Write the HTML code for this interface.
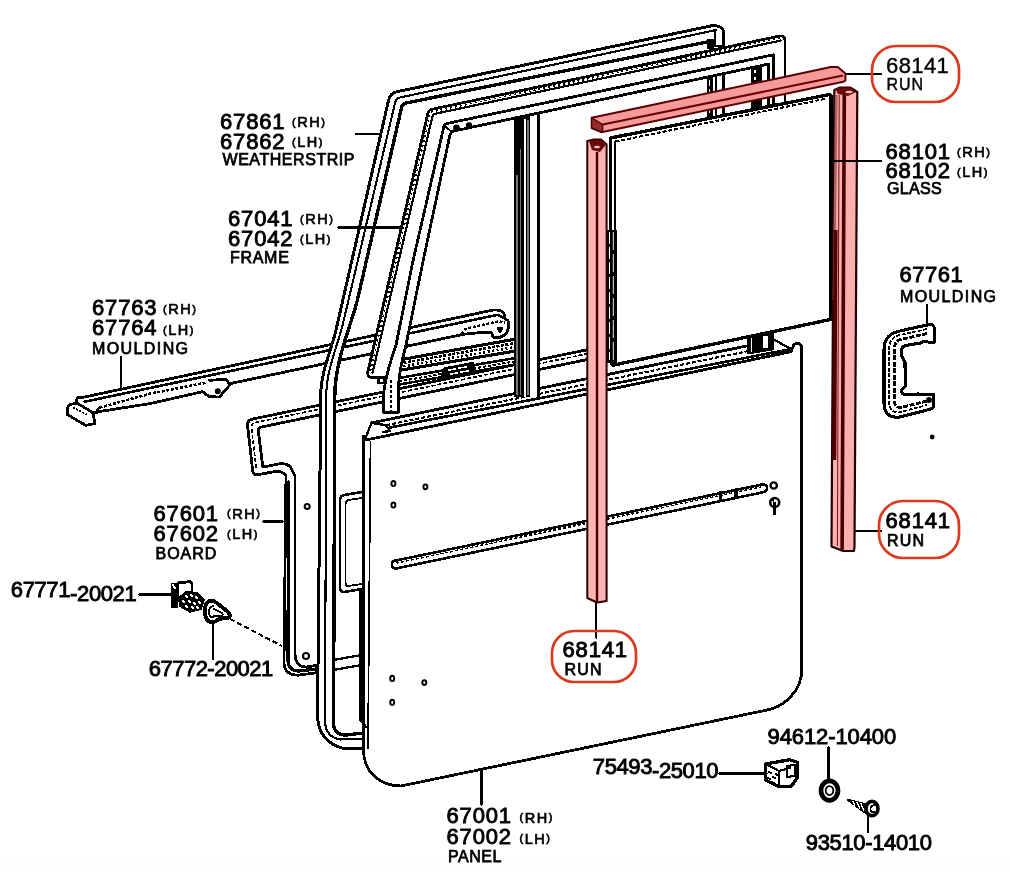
<!DOCTYPE html>
<html><head><meta charset="utf-8">
<style>
html,body{margin:0;padding:0;background:#fff;}
body{width:1010px;height:872px;position:relative;overflow:hidden;}
svg{position:absolute;left:0;top:0;will-change:transform;}
text{font-family:"Liberation Sans",sans-serif;fill:#000;}
.n{font-size:22px;letter-spacing:0.85px;stroke:#000;stroke-width:0.9px;}
.p{font-size:22px;letter-spacing:-0.1px;stroke:#000;stroke-width:0.9px;}
.s{font-size:14.5px;letter-spacing:1.5px;stroke:#000;stroke-width:0.7px;}
.pp{font-size:11px;font-weight:normal;}
.l{font-size:16px;letter-spacing:1px;stroke:#000;stroke-width:0.75px;}
</style></head><body>
<svg width="1010" height="872" viewBox="0 0 1010 872">
<rect x="0" y="856" width="1010" height="16" fill="#fefefe"/>
<g fill="none" stroke="#000" stroke-linejoin="round" stroke-linecap="round" shape-rendering="crispEdges" stroke-width="2.8">
<!-- BOARD 67601 -->
<g id="board">

<path d="M600,347.1 L252,419.2 Q247.5,420.5 247.5,425 L252.6,470 Q253,474.7 257.2,474.7 L274,471.8 Q283,470.5 286,476 L284,662 Q284,675 298,675.2 L316,672.8"/>
<path d="M600,351.1 L254,422.8 Q251.5,424 251.5,428 L256.4,469.5" stroke-width="1.69" stroke-linecap="butt" stroke-dasharray="4 2"/>
<path d="M288.5,482 L288,660 Q288,671 299,671 L316,669" stroke-width="3.25"/>
<path d="M600,356.9 L261,427.1 Q258.3,428.3 258.3,431 L262.9,467.2 L278,464 Q290,462 293,472 L295,476 L295,652 Q295,667 306,667 L316,665.5"/>
<circle shape-rendering="auto" cx="307.2" cy="506.5" r="2.5" stroke-width="2.08"/>
<circle shape-rendering="auto" cx="306" cy="656" r="3" stroke-width="2.08"/>
<path d="M333,660 L362,655 M333,670 L362,665" stroke-width="2.34"/>
</g>
<!-- MOULDING 67763 -->
<g id="mould1">
<path d="M80,398 L491.3,310.4 Q499,309 503,312 Q505,314 504.2,317.8 L508.1,320.8 L508.1,328.7 Q507.5,333 505.1,334.7 L499.2,337.6 L493.3,337.1 L491.3,332.7 L484.4,332.2 L463.6,334.2 L459.6,335.1 L229.2,383.8 L226.2,379.3 L209.4,380.3 M229.2,383.8 L229.2,385.7 L219.3,397.1 L209.4,396.6 L202.5,391.7 L150,403.6 L92.7,412.6"/>
<path d="M84.8,401.7 L497.2,314.9 L504.2,317.8" stroke-width="2.60"/>
<path d="M99.6,407.6 L150,393.7 L207,382.5" stroke-width="2.60" stroke-linecap="butt" stroke-dasharray="3 1.6"/>
<path d="M461.6,334 L466,328.7 L499.2,321.3 L505,323" stroke-width="2.60" stroke-linecap="butt" stroke-dasharray="3 1.6"/>
<path d="M99.6,407.6 Q96,410 97,413" stroke-width="2.34"/>
<path d="M78.8,397.2 Q75.5,399 77,403 L70,404.5 Q66.5,406 67.4,414.6 L85.7,425.4 L94.7,423.5 L93.7,416.5 L92.7,412.6 M77,403 L92.7,412.6"/>
<path d="M72.9,407.6 L88.7,415.5" stroke-width="1.82" stroke-linecap="butt" stroke-dasharray="2 1.5"/>
<path d="M497,328 L503,328 L500,333 Z" fill="#000" stroke-width="1.30"/>
<circle shape-rendering="auto" cx="217.8" cy="391.2" r="1.6" fill="#000"/>
</g>
<!-- door inner rails -->
<g id="rails">
<path d="M399,360 L527,337" stroke-width="3.12"/>
<path d="M399,370.5 L527,349" stroke-width="3.12"/>
<path d="M399,363.6 L527,341" stroke-width="2.60" stroke-linecap="butt" stroke-dasharray="3 1.5"/>
<path d="M399,367 L527,345" stroke-width="2.60" stroke-linecap="butt" stroke-dasharray="2 2.5"/>
<path d="M399,378 L527,356" stroke-width="2.60"/>
<path d="M399,384.5 L527,362.5" stroke-width="2.60"/>
<path d="M399,381.3 L527,359.3" stroke-width="2.08" stroke-linecap="butt" stroke-dasharray="3 2"/>
<path d="M441,377 L444,368 L473,362.5 L476,371 Z" fill="#000" stroke-width="1.30"/>
<path d="M449,370 L455,369 M459,368 L466,367 M451,374 L457,373 M461,372 L468,371" stroke="#fff" stroke-width="1.56"/>
</g>
<!-- FRAME 67041 -->
<g id="frame">
<path d="M784.9,103 V39.5 Q784.5,36 780.3,35.9 L431,109.5 Q428.5,110.5 428,113 L367.8,372 Q367.5,377.4 372,377.4 L383.5,377.4 L383.5,412.3 L398.5,412.3 L398.5,390 Q398.5,372 406,345 L423.3,260 L450,134.5 Q451,131.8 454,131 L768.8,64 V107 Z" fill="#fff" stroke="none"/>
<path d="M784.9,103 V39.5 Q784.5,36 780.3,35.9 L431,109.5 Q428.5,110.5 428,113 L367.8,372 Q367.5,377.4 372,377.4 L380,377.4"/>
<path d="M781,40.5 L434,114 Q432.5,115 432,118 L372.5,373" stroke-width="2.21"/>
<path d="M780,38.2 L432,111.8 Q430.3,112.6 430,115 L370.2,372.5" stroke-width="1.56" stroke-linecap="butt" stroke-dasharray="2 3"/>
<path d="M773.4,106 V54.8 L447,123.5 Q444.5,124 443.8,127 L413.2,260 L396,345 Q385,377 383.5,395 L383.5,412.3 L398.5,412.3 L398.5,390 Q398.5,372 406,345 L423.3,260 L450,134.5 Q451,131.8 454,131 L768.8,64 V107"/>
<path d="M391,380 V411" stroke-width="1.56" stroke-linecap="butt" stroke-dasharray="3 2"/>
<rect x="378.5" y="377.5" width="6" height="5.5" fill="#fff"/>
<rect x="706.5" y="76" width="6.5" height="43" fill="#000" stroke="none"/><path d="M709.5,80 V116" stroke="#fff" stroke-width="1.04" stroke-linecap="butt" stroke-dasharray="6 3"/><path d="M716,75 V118 M723.5,73 V117" stroke-width="2.08"/>
<rect x="750.5" y="67" width="11" height="41" fill="#000" stroke="none"/><path d="M755,70 V105" stroke="#fff" stroke-width="1.56" stroke-linecap="butt" stroke-dasharray="3 4"/>
<path d="M444.5,126 L452,132" stroke-width="1.95"/>
<circle shape-rendering="auto" cx="456.5" cy="128" r="2" fill="#000"/>
<circle shape-rendering="auto" cx="469" cy="125.5" r="1.8" fill="#000"/>
</g>
<!-- WEATHERSTRIP 67861 -->
<g id="weather">
<path d="M723.4,46 V31 Q722.5,26.5 714,25.3 L398,91.5 Q390,93 388.6,100 L336,330 C331.4,350 320.8,372 320.8,395 L317.5,715 Q318,742 344,748.7 L363.5,748.7 L363.5,733 L346,735 Q335,735 333.5,725 L334.8,395 C335,360 352,323 357.4,300 L401.7,107 Q402,104.5 405,103.2 L707,42 Z" fill="#fff" stroke="none"/>
<path d="M723.4,46 V31 Q722.5,26.5 714,25.3 L398,91.5 Q390,93 388.6,100 L336,330 C331.4,350 320.8,372 320.8,395 L317.5,715 Q318,742 344,748.7 L363.5,748.7" stroke-width="2.99"/>
<path d="M716,30 L399,97.7 Q395.5,99 394.8,104 L342.6,325 C337.9,345 326.3,370 326.3,395 L325,722 Q326,737 340,739.5 L363.5,738.5" stroke-width="2.08"/>
<path d="M707,42 L405,103.2 Q402,104.5 401.7,107 L357.4,300 C352,323 335,360 334.8,395 L333.5,725 Q335,735 346,735 L363.5,733" stroke-width="3.38"/>
<path d="M715,30 V46 H723.4"/>
<rect x="707" y="39" width="7" height="10" fill="#000" stroke="none"/>
</g>
<!-- GLASS -->
<g id="glass">
<path d="M610.6,138 L829.5,94.5 L831,96 V319.4 L613,365.2 L610.6,362 Z" fill="#fff" stroke-width="3.38"/>
<path d="M615.5,141.5 L827,98.5" stroke-width="2.08" stroke-linecap="butt" stroke-dasharray="4 2"/>
<path d="M615.3,141.5 V361" stroke-width="2.34"/>
<rect x="607" y="230" width="9.5" height="133" fill="#000" stroke="none"/>
<path d="M609.8,232 V360" stroke="#fff" stroke-width="1.04" stroke-linecap="butt" stroke-dasharray="12 3"/>
<path d="M613.3,232 V360" stroke="#fff" stroke-width="0.91" stroke-linecap="butt" stroke-dasharray="18 4"/>
</g>
<!-- DOOR PANEL 67001 -->
<g id="panel">
<path d="M371.4,422.9 L748,345.7 L772.6,338.8 L791,349 L791,351.7 L366,440 Z" fill="#fff" stroke="none"/>
<path d="M363.5,436 L363.5,750 C363.5,772 380,786 401,786 L763.3,710.8 C785,708 801.8,690 801.8,669.5 L801.8,346 L799,343.5 L794,344 L791,351.7 L366,440 Z" fill="#fff"/>
<path d="M370.5,442 L368,748" stroke-width="1.69"/>
<path d="M360.5,590 V720 L366,727" stroke-width="2.60"/>
<path d="M371.4,422.9 L748,345.7" stroke-width="2.86"/>
<path d="M386,425.2 L772,346.2" stroke-width="2.08" stroke-linecap="butt" stroke-dasharray="4 2"/>
<path d="M390,427.5 L791,349" stroke-width="2.60"/>
<path d="M366,437 L371.4,422.9 L386,425.2 L390,431 L383,432" stroke-width="2.34"/>
<path d="M772.6,338.8 L791,349" stroke-width="2.34"/>
<path d="M748,337 L772.6,333 L772.6,349 L748,353 Z" fill="#000"/>
<rect x="762.5" y="336" width="5" height="12" fill="#fff" stroke="none"/>
<path d="M751.5,339 V351" stroke="#fff" stroke-width="1.04"/>
<path d="M396,560.5 L762,484.5 Q767,484 767,488 Q767,492 762,492.5 L396,568.5 Q392,568.5 392,564.5 Q392,560.5 396,560.5 Z" stroke-width="2.60"/>
<path d="M396.5,563 L761,487" stroke-width="1.56" stroke-linecap="butt" stroke-dasharray="3 2"/>
<path d="M720.2,492 V500 M736,489 V497" stroke-width="3.12"/>
<path d="M362,492 L344,495 Q340,496 340,500 L340,588 Q340,592 344,592 L362,589" stroke-width="2.60"/>
<path d="M362,498 L348,500 Q345.5,501 345.5,504 L345.5,583 Q345.5,586 348,586 L362,584" stroke-width="1.95"/>
<ellipse shape-rendering="auto" cx="393.4" cy="483.5" rx="2" ry="2.6" stroke-width="1.95"/>
<ellipse shape-rendering="auto" cx="393.4" cy="505" rx="2" ry="2.6" stroke-width="1.95"/>
<ellipse shape-rendering="auto" cx="425.4" cy="486.8" rx="2" ry="2.4" stroke-width="1.95"/>
<ellipse shape-rendering="auto" cx="392.2" cy="678.4" rx="2" ry="2.6" stroke-width="1.95"/>
<ellipse shape-rendering="auto" cx="424.3" cy="682.6" rx="2" ry="2.4" stroke-width="1.95"/>
<ellipse shape-rendering="auto" cx="392.2" cy="702.3" rx="2" ry="2.6" stroke-width="1.95"/>
<circle shape-rendering="auto" cx="773.7" cy="485.5" r="3.2" stroke-width="2.34"/>
<ellipse shape-rendering="auto" cx="774.7" cy="502.5" rx="4.5" ry="4.5" stroke-width="2.60"/><path d="M774.5,504 V513" stroke-width="3.90"/><path d="M773,500 L775,505" stroke-width="1.56"/>
</g>
<!-- division bar -->
<g id="divbar">
<path d="M514,121 L540,115.5 L540,397 L514,397 Z" fill="#fff" stroke="none"/>
<path d="M514,119.5 L530,116.2 L530,397 L514,397 Z" fill="#000" stroke="none"/>
<path d="M525,120 V396" stroke="#fff" stroke-width="2.08"/>
<path d="M517,175 V395 M520.8,150 V395 M528,120 V395" stroke="#777" stroke-width="1.17"/>
<path d="M538.7,113 V396" stroke-width="3.12"/>
</g>
<!-- MOULDING 67761 -->
<g id="mould2">
<path d="M929,324.5 Q934.3,324 934.3,329 L934.3,342 L929,342.5 Q925,340 921,343 L906,345.5 Q901,347 901,352 L902,357 L905,362 L905.3,386 L901.5,390 Q901,394 905,394.5 L919,394 Q922,395.5 926,394.4 L933.6,394.4 L933.6,406 Q933,409 929,409.5 L899,417.2 Q884,418 884,403 L884,350 Q884,334 900,331 Z" stroke-width="3.12"/>
<path d="M927,329 L900,335 Q889,337 889,350 L889,402 Q889,412 899,412.5 L927,405" stroke-width="1.82" stroke-linecap="butt" stroke-dasharray="4 1.5"/>
<path d="M927,333.5 L901,339.5 Q894.5,341 894.5,348 L894.5,400 Q894.5,408 901,407.5 L927,401" stroke-width="2.86" stroke-linecap="butt" stroke-dasharray="5 1.5"/>
<circle shape-rendering="auto" cx="929" cy="400" r="1.5" fill="#000"/>
<circle shape-rendering="auto" cx="932.2" cy="437" r="1" fill="#000"/>
</g>
<!-- small parts -->
<g id="parts">
<path d="M178,583 L190,581.6 L192,584 L192,597 L178,598 Z" fill="#fff" stroke-width="2.86"/>
<rect x="171.2" y="583.3" width="7" height="24.3" fill="#000" stroke="none"/>
<path d="M173,585 L175,588" stroke="#fff" stroke-width="1.95"/>
<path d="M179,598 L186,592.3 L197,592.6 L203.8,599.5 L201,609 L190,611.7 L180,606 Z" fill="#000" stroke-width="1.95"/>
<path d="M186,596 L187,597 M191,595 L192,596 M196,597 L197,598 M183,601 L184,602 M189,601 L190,602 M194,603 L195,604 M199,602 L200,603 M186,606 L187,607 M192,607 L193,608 M197,607 L198,608" stroke="#fff" stroke-width="1.56"/>
<path d="M211,600.8 Q205,601 205,611 Q205,622 212,622 Q216,622 219,619 L229,617.5 Q231,615 228,612 L217,603 Q214,600.8 211,600.8 Z" fill="#fff" stroke-width="3.90"/>
<path d="M213,606 Q209,607 209,612 Q209,617 213,617.5 M214,609 L222,613 Q224,615 221,616 L214,616" stroke-width="1.95"/>
<path d="M765.8,764 L789.6,759.7 L797.3,762.3 L797.3,777.7 L790.9,786.7 L779.3,786.7 L765.8,780.3 Z" fill="#fff" stroke-width="3.38"/>
<path d="M766,764 L779,771 L790,768 M779,771 L779.3,786.7" stroke-width="2.08"/>
<path d="M787,766 L795,765 L795,776 L787,777 Z" stroke-width="2.08"/>
<path d="M769,772 L771,773 M773,777 L775,778 M768,778 L770,779 M772,782 L774,783 M776,774 L777,775" stroke-width="1.82"/>
<ellipse shape-rendering="auto" cx="829.5" cy="790.6" rx="8.5" ry="9.8" fill="#fff" stroke-width="4.68"/>
<ellipse shape-rendering="auto" cx="829.5" cy="790.6" rx="3.8" ry="4.5" stroke-width="1.82"/>
<path d="M847.5,799.6 L866.8,804.5 L865.5,813 Z" fill="#000" stroke-width="1.95"/>
<path d="M853,801.5 L855,806 M857,802.5 L859.5,808 M861,803.5 L863.5,810" stroke="#fff" stroke-width="1.30"/>
<ellipse shape-rendering="auto" cx="872" cy="808.6" rx="6" ry="7.2" fill="#fff" stroke-width="3.64"/>
<path d="M874,805 Q870,806 870.5,810 Q871,812.5 874,812" stroke-width="1.82"/>
</g>
<!-- leader lines -->
<g id="leaders" stroke-width="2.08">
<path d="M356,134 H381"/>
<path d="M338,227.5 H401"/>
<path d="M121.4,356.8 V388"/>
<path d="M845,74 H881"/>
<path d="M927.2,305 V326"/>
<path d="M262.8,521.5 H283"/>
<path d="M139,594.5 H172"/>
<path d="M213.2,620.7 V659"/>
<path d="M230,619 L282,646" stroke-linecap="butt" stroke-dasharray="5 3"/>
<path d="M854.2,530.9 H881.6"/>
<path d="M596.4,602.7 V637.8"/>
<path d="M481.5,771 V805"/>
<path d="M719,773.5 H767"/>
<path d="M828.5,746.7 V781"/>
<path d="M868,814.4 V832.3"/>
</g>
</g>
<!-- RED RUNS -->
<g id="runs" stroke-linejoin="round">
<path d="M591.7,117.7 L830.9,67.1 L837.8,67.1 L845.4,73.4 L845.4,80.6 L843.4,81.7 L601.3,132.2 L591.7,128 Z" fill="#f59a9a" stroke="#5a0000" stroke-width="2"/>
<path d="M602.7,124.6 L843,75.5" fill="none" stroke="#6a0000" stroke-width="2"/>
<path d="M591.7,117.7 L602.7,124.6 L602.7,132 L591.7,128 Z" fill="#9a2a2a" stroke="#3a0000" stroke-width="1.2"/>
<path d="M587.3,141 L593,139.6 L601,139.6 L606.6,144.2 L606.6,601 L597,602.5 L587.3,598 Z" fill="#fdb4b4" stroke="#2a0000" stroke-width="2"/>
<path d="M597,152 V602" stroke="#4a0000" stroke-width="2.4"/>
<path d="M589,141 L594,139.8 L601,139.8 L606.5,144 L600,152 L592,150 Z" fill="#6a0a0a" stroke="none"/>
<ellipse shape-rendering="auto" cx="597" cy="147" rx="3" ry="1.2" fill="#f0c0c0"/>
<path d="M834.3,90 L840,87.5 L850,87.5 L857.3,92 L854.5,546.5 L854,551 L843,551 L831.5,546.5 Z" fill="#fbb0b0" stroke="#200000" stroke-width="2.2"/>
<path d="M836.3,95 L834,300" stroke="#b06060" stroke-width="2.6"/>
<path d="M835.6,230 L834.3,460" stroke="#500000" stroke-width="4"/>
<path d="M839.2,95 L837.4,546" stroke="#6a1010" stroke-width="1"/>
<path d="M844.3,95 L842.1,550" stroke="#4a0000" stroke-width="3.6"/>
<path d="M835.5,89 L840,87.6 L850,87.6 L856,92 L848,96 L838,94 Z" fill="#6a0a0a" stroke="none"/>
<ellipse shape-rendering="auto" cx="849" cy="92" rx="3.5" ry="1.2" fill="#f0c0c0"/>
</g>
<path d="M831,161.2 H882" stroke="#000" stroke-width="2" shape-rendering="crispEdges"/>
<!-- callouts -->
<g fill="none" stroke="#dc3a1e" stroke-width="2.7">
<rect x="872" y="46" width="87" height="56" rx="24"/>
<rect x="879" y="501" width="80" height="57" rx="24"/>
<rect x="552" y="631" width="84" height="51" rx="22"/>
</g>
<!-- text -->
<g>
<text class="n" x="220" y="129">67861</text><text class="s" x="292" y="127.2"><tspan class="pp" dy="-1.5">(</tspan><tspan dy="1.5">RH</tspan><tspan class="pp" dy="-1.5">)</tspan></text>
<text class="n" x="220" y="148.5">67862</text><text class="s" x="292" y="147"><tspan class="pp" dy="-1.5">(</tspan><tspan dy="1.5">LH</tspan><tspan class="pp" dy="-1.5">)</tspan></text>
<text class="l" x="222.5" y="165" style="letter-spacing:0.55px">WEATHERSTRIP</text>
<text class="n" x="228" y="226">67041</text><text class="s" x="300" y="224"><tspan class="pp" dy="-1.5">(</tspan><tspan dy="1.5">RH</tspan><tspan class="pp" dy="-1.5">)</tspan></text>
<text class="n" x="228" y="246">67042</text><text class="s" x="300" y="244"><tspan class="pp" dy="-1.5">(</tspan><tspan dy="1.5">LH</tspan><tspan class="pp" dy="-1.5">)</tspan></text>
<text class="l" x="230" y="263" style="letter-spacing:0.7px">FRAME</text>
<text class="n" x="92" y="315">67763</text><text class="s" x="163" y="314"><tspan class="pp" dy="-1.5">(</tspan><tspan dy="1.5">RH</tspan><tspan class="pp" dy="-1.5">)</tspan></text>
<text class="n" x="92" y="335">67764</text><text class="s" x="163" y="335"><tspan class="pp" dy="-1.5">(</tspan><tspan dy="1.5">LH</tspan><tspan class="pp" dy="-1.5">)</tspan></text>
<text class="l" x="92" y="353.5" style="letter-spacing:1.4px">MOULDING</text>
<text class="n" x="886" y="73" style="letter-spacing:0.4px;stroke-width:0.4px">68141</text>
<text class="l" x="886.5" y="89.5" style="letter-spacing:0.9px;stroke-width:0.4px">RUN</text>
<text class="n" x="885.5" y="158.7">68101</text><text class="s" x="957" y="157"><tspan class="pp" dy="-1.5">(</tspan><tspan dy="1.5">RH</tspan><tspan class="pp" dy="-1.5">)</tspan></text>
<text class="n" x="885.5" y="178">68102</text><text class="s" x="957" y="177"><tspan class="pp" dy="-1.5">(</tspan><tspan dy="1.5">LH</tspan><tspan class="pp" dy="-1.5">)</tspan></text>
<text class="l" x="887" y="194.3" style="letter-spacing:0.3px">GLASS</text>
<text class="n" x="899.5" y="282" style="letter-spacing:0.5px">67761</text>
<text class="l" x="900" y="302" style="letter-spacing:1.4px">MOULDING</text>
<text class="n" x="153.5" y="520.5">67601</text><text class="s" x="227" y="518.7"><tspan class="pp" dy="-1.5">(</tspan><tspan dy="1.5">RH</tspan><tspan class="pp" dy="-1.5">)</tspan></text>
<text class="n" x="153.5" y="540.5">67602</text><text class="s" x="227" y="539"><tspan class="pp" dy="-1.5">(</tspan><tspan dy="1.5">LH</tspan><tspan class="pp" dy="-1.5">)</tspan></text>
<text class="l" x="155.5" y="559">BOARD</text>
<text class="p" x="10.8" y="597.3" style="letter-spacing:-0.38px">67771<tspan dy="3.7">-20021</tspan></text>
<text class="p" x="148.8" y="676" style="letter-spacing:-0.52px">67772-20021</text>
<text class="n" x="885.5" y="528">68141</text>
<text class="l" x="887" y="546" style="letter-spacing:1.2px">RUN</text>
<text class="n" x="562.5" y="657">68141</text>
<text class="l" x="564.5" y="674.5" style="letter-spacing:1.2px">RUN</text>
<text class="p" x="767.5" y="744">94612-10400</text>
<text class="p" x="592.8" y="773.7" style="letter-spacing:-0.4px">75493<tspan dy="4.6">-25010</tspan></text>
<text class="p" x="805.8" y="850" style="letter-spacing:-0.35px">93510-14010</text>
<text class="n" x="446.5" y="823.3">67001</text><text class="s" x="519.5" y="822.8"><tspan class="pp" dy="-1.5">(</tspan><tspan dy="1.5">RH</tspan><tspan class="pp" dy="-1.5">)</tspan></text>
<text class="n" x="446.5" y="843.5">67002</text><text class="s" x="519.5" y="843.8"><tspan class="pp" dy="-1.5">(</tspan><tspan dy="1.5">LH</tspan><tspan class="pp" dy="-1.5">)</tspan></text>
<text class="l" x="448" y="861.5" style="letter-spacing:0.5px">PANEL</text>
</g>
</svg>
</body></html>
